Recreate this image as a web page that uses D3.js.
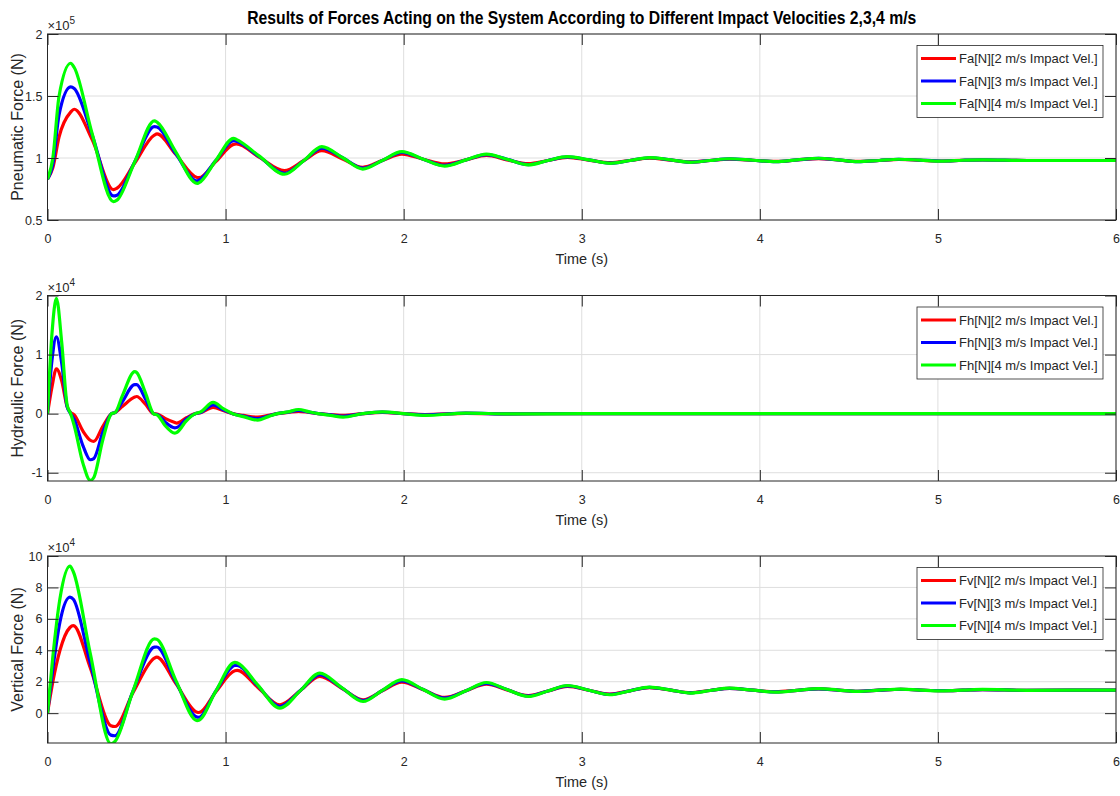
<!DOCTYPE html>
<html>
<head>
<meta charset="utf-8">
<script src="https://cdn.jsdelivr.net/npm/d3@7"></script>
<style>
  body { margin: 0; background: #fff; }
  svg { display: block; font-family: "Liberation Sans", Arial, sans-serif; }
</style>
</head>
<body>
<svg id="chart" width="1120" height="796"></svg>
<script>
// time axis
const xTicks = [0, 1, 2, 3, 4, 5, 6];

// ---- Pneumatic force (x1e5 N) ----
const tPneu = [0, 0.03, 0.065, 0.13, 0.15, 0.25, 0.37, 0.39, 0.49, 0.60, 0.615, 0.72, 0.84, 0.85, 0.945,
  1.045, 1.06, 1.19, 1.33, 1.44, 1.54, 1.66, 1.77, 1.88, 1.99, 2.11, 2.23, 2.35, 2.465, 2.58, 2.70, 2.81,
  2.92, 3.04, 3.16, 3.27, 3.38, 3.50, 3.61, 3.72, 3.83, 3.96, 4.09, 4.21, 4.33, 4.44, 4.55, 4.67, 4.78,
  4.90, 5.02, 5.14, 5.25, 5.5, 5.75, 6.0];
const pneu2 = [0.83, 0.92, 1.17, 1.37, 1.393, 1.15, 0.745, 0.756, 0.96, 1.185, 1.194, 1.03, 0.843, 0.841, 0.97,
  1.11, 1.113, 1.005, 0.898, 0.98, 1.059, 0.99, 0.925, 0.98, 1.032, 0.99, 0.952, 0.985, 1.02, 0.985, 0.955, 0.98,
  1.005, 0.983, 0.962, 0.98, 0.998, 0.983, 0.968, 0.98, 0.99, 0.982, 0.972, 0.984, 0.995, 0.984, 0.972, 0.98, 0.988,
  0.982, 0.976, 0.982, 0.984, 0.98, 0.98, 0.98];
const pneu3 = [0.83, 0.95, 1.35, 1.573, 1.56, 1.19, 0.694, 0.70, 0.97, 1.253, 1.25, 1.035, 0.815, 0.82, 0.98,
  1.14, 1.135, 1.01, 0.876, 0.98, 1.08, 1.0, 0.918, 0.98, 1.045, 0.99, 0.94, 0.985, 1.028, 0.99, 0.947, 0.98,
  1.009, 0.985, 0.958, 0.98, 1.002, 0.985, 0.966, 0.98, 0.993, 0.982, 0.971, 0.985, 0.997, 0.985, 0.971, 0.98, 0.99,
  0.983, 0.976, 0.982, 0.985, 0.98, 0.98, 0.98];
const pneu4 = [0.83, 1.00, 1.50, 1.764, 1.73, 1.20, 0.648, 0.66, 0.97, 1.30, 1.29, 1.05, 0.796, 0.80, 0.98,
  1.159, 1.15, 1.015, 0.869, 0.98, 1.092, 1.0, 0.911, 0.98, 1.051, 0.99, 0.935, 0.985, 1.032, 0.99, 0.944, 0.98,
  1.011, 0.985, 0.957, 0.98, 1.003, 0.985, 0.965, 0.98, 0.994, 0.982, 0.97, 0.985, 0.998, 0.985, 0.97, 0.98, 0.99,
  0.983, 0.975, 0.982, 0.985, 0.98, 0.98, 0.98];
const pneuTicks = [0.5, 1, 1.5, 2];

// ---- Hydraulic force (x1e4 N) ----
const tHyd = [0, 0.025, 0.05, 0.08, 0.11, 0.13, 0.15, 0.2, 0.24, 0.26, 0.31, 0.36, 0.38, 0.42, 0.49, 0.5,
  0.55, 0.595, 0.62, 0.66, 0.715, 0.725, 0.78, 0.83, 0.86, 0.93, 0.99, 1.04, 1.1, 1.18, 1.24, 1.29, 1.35,
  1.41, 1.47, 1.52, 1.59, 1.66, 1.77, 1.88, 2.0, 2.12, 2.35, 2.6, 3.0, 6.0];
const hyd2 = [0, 0.45, 0.76, 0.55, 0.12, 0.02, -0.02, -0.3, -0.45, -0.47, -0.22, 0, 0.02, 0.12, 0.28, 0.29,
  0.16, 0, -0.01, -0.08, -0.15, -0.16, -0.07, 0, 0.015, 0.105, 0.05, 0, -0.03, -0.06, -0.03, 0, 0.02,
  0.04, 0.02, 0, -0.015, -0.03, 0, 0.02, 0, -0.015, 0.005, -0.003, 0, 0];
const hyd3 = [0, 0.9, 1.30, 0.85, 0.12, 0, -0.1, -0.55, -0.78, -0.76, -0.32, 0, 0.02, 0.2, 0.49, 0.49,
  0.25, 0, -0.02, -0.14, -0.24, -0.235, -0.09, 0, 0.02, 0.15, 0.06, 0, -0.04, -0.085, -0.04, 0, 0.025,
  0.055, 0.025, 0, -0.02, -0.045, 0, 0.025, 0, -0.02, 0.008, -0.004, 0, 0];
const hyd4 = [0, 1.35, 1.95, 1.2, 0.15, 0, -0.2, -0.85, -1.13, -1.08, -0.45, 0, 0.02, 0.3, 0.71, 0.70,
  0.35, 0, -0.03, -0.2, -0.33, -0.32, -0.12, 0, 0.03, 0.19, 0.08, 0, -0.05, -0.11, -0.05, 0, 0.03,
  0.07, 0.03, 0, -0.03, -0.06, 0, 0.03, 0, -0.03, 0.01, -0.005, 0, 0];
const hydTicks = [-1, 0, 1, 2];

// ---- Vertical force (x1e4 N) ----
const tVert = [0, 0.03, 0.07, 0.126, 0.145, 0.24, 0.356, 0.379, 0.48, 0.60, 0.613, 0.72, 0.84, 0.85, 0.945,
  1.052, 1.065, 1.18, 1.305, 1.42, 1.529, 1.65, 1.772, 1.88, 1.99, 2.11, 2.23, 2.35, 2.465, 2.58, 2.70, 2.81,
  2.92, 3.04, 3.157, 3.27, 3.38, 3.5, 3.61, 3.72, 3.83, 3.96, 4.09, 4.21, 4.33, 4.44, 4.55, 4.67, 4.79, 4.9,
  5.02, 5.14, 5.25, 5.5, 5.75, 6.0];
const vert2 = [0, 2.0, 4.0, 5.45, 5.57, 2.9, -0.8, -0.85, 1.3, 3.5, 3.57, 1.9, 0.06, 0.04, 1.35,
  2.7, 2.72, 1.65, 0.53, 1.43, 2.34, 1.6, 0.85, 1.42, 1.98, 1.49, 1.0, 1.42, 1.84, 1.48, 1.12, 1.41,
  1.70, 1.46, 1.21, 1.42, 1.62, 1.46, 1.30, 1.44, 1.57, 1.46, 1.36, 1.45, 1.54, 1.47, 1.39, 1.46, 1.52, 1.47,
  1.43, 1.46, 1.5, 1.45, 1.46, 1.46];
const vert3 = [0, 2.8, 5.8, 7.38, 7.25, 3.2, -1.40, -1.44, 1.4, 4.2, 4.21, 2.0, -0.25, -0.26, 1.4,
  3.03, 3.04, 1.75, 0.42, 1.44, 2.45, 1.63, 0.8, 1.44, 2.05, 1.5, 0.95, 1.43, 1.9, 1.5, 1.09, 1.41,
  1.73, 1.46, 1.19, 1.42, 1.64, 1.47, 1.29, 1.44, 1.58, 1.46, 1.35, 1.45, 1.55, 1.47, 1.39, 1.46, 1.52, 1.47,
  1.43, 1.46, 1.5, 1.45, 1.46, 1.46];
const vert4 = [0, 3.6, 7.3, 9.36, 9.0, 3.8, -1.95, -1.8, 1.4, 4.72, 4.7, 2.1, -0.47, -0.45, 1.4,
  3.23, 3.2, 1.8, 0.32, 1.43, 2.55, 1.65, 0.74, 1.45, 2.13, 1.5, 0.89, 1.42, 1.95, 1.5, 1.06, 1.41,
  1.76, 1.46, 1.17, 1.42, 1.66, 1.47, 1.28, 1.44, 1.59, 1.46, 1.34, 1.45, 1.56, 1.47, 1.38, 1.46, 1.53, 1.47,
  1.42, 1.46, 1.51, 1.45, 1.46, 1.46];
const vertTicks = [0, 2, 4, 6, 8, 10];

const velocities = ['2', '3', '4'];
const colors = ['#ff0000', '#0000ff', '#00ff00'];

const svg = d3.select('#chart');
const left = 47.5, right = 1116;
const x = d3.scaleLinear().domain([0, 6]).range([left, right]);
const textColor = '#262626';

// Title (condensed bold, squeezed to the reference width)
svg.append('text')
    .attr('x', (left + right) / 2)
    .attr('y', 24)
    .attr('text-anchor', 'middle')
    .attr('font-family', '"Liberation Sans Narrow", "Arial Narrow", "Liberation Sans", sans-serif')
    .attr('font-weight', 'bold')
    .attr('font-size', '18px')
    .attr('textLength', 669)
    .attr('lengthAdjust', 'spacingAndGlyphs')
    .attr('fill', '#000')
    .text('Results of Forces Acting on the System According to Different Impact Velocities 2,3,4 m/s');

const panels = [
    { top: 34, bottom: 220, domain: [0.5, 2], ticks: pneuTicks, exp: '5',
      ylabel: 'Pneumatic Force (N)', prefix: 'Fa', t: tPneu, series: [pneu2, pneu3, pneu4] },
    { top: 295.5, bottom: 481, domain: [-1.14, 2], ticks: hydTicks, exp: '4',
      ylabel: 'Hydraulic Force (N)', prefix: 'Fh', t: tHyd, series: [hyd2, hyd3, hyd4] },
    { top: 556, bottom: 743, domain: [-1.9, 10], ticks: vertTicks, exp: '4',
      ylabel: 'Vertical Force (N)', prefix: 'Fv', t: tVert, series: [vert2, vert3, vert4] }
];

panels.forEach((p, i) => drawPanel(p, i));

function drawPanel(p, idx) {
    const h = p.bottom - p.top;
    const y = d3.scaleLinear().domain(p.domain).range([p.bottom, p.top]);
    const g = svg.append('g');

    // clip
    g.append('clipPath').attr('id', 'clip' + idx)
        .append('rect')
        .attr('x', left).attr('y', p.top)
        .attr('width', right - left).attr('height', h);

    // grid
    g.append('g').selectAll('line.vx')
        .data(xTicks)
        .enter().append('line')
        .attr('x1', d => x(d)).attr('x2', d => x(d))
        .attr('y1', p.top).attr('y2', p.bottom)
        .attr('stroke', '#dedede').attr('stroke-width', 1);
    g.append('g').selectAll('line.hy')
        .data(p.ticks)
        .enter().append('line')
        .attr('x1', left).attr('x2', right)
        .attr('y1', d => y(d)).attr('y2', d => y(d))
        .attr('stroke', '#dedede').attr('stroke-width', 1);

    // curves
    const line = d3.line()
        .x(d => x(d[0]))
        .y(d => y(d[1]))
        .curve(d3.curveMonotoneX);
    p.series.forEach((vals, k) => {
        g.append('path')
            .datum(p.t.map((t, j) => [t, vals[j]]))
            .attr('clip-path', 'url(#clip' + idx + ')')
            .attr('fill', 'none')
            .attr('stroke', colors[k])
            .attr('stroke-width', 3.2)
            .attr('stroke-linejoin', 'round')
            .attr('d', line);
    });

    // axes (ticks inward on all sides)
    const tl = 11;
    const xb = g.append('g')
        .attr('transform', `translate(0,${p.bottom})`)
        .call(d3.axisBottom(x).tickValues(xTicks).tickSize(-tl).tickPadding(14).tickFormat(d => String(d)));
    const xt = g.append('g')
        .attr('transform', `translate(0,${p.top})`)
        .call(d3.axisTop(x).tickValues(xTicks).tickSize(-tl).tickFormat(''));
    const yl = g.append('g')
        .attr('transform', `translate(${left},0)`)
        .call(d3.axisLeft(y).tickValues(p.ticks).tickSize(-tl).tickPadding(5).tickFormat(d => String(d)));
    const yr = g.append('g')
        .attr('transform', `translate(${right},0)`)
        .call(d3.axisRight(y).tickValues(p.ticks).tickSize(-tl).tickFormat(''));
    [xb, xt, yl, yr].forEach(a => {
        a.select('.domain').remove();
        a.selectAll('line').attr('stroke', textColor).attr('stroke-width', 1);
        a.selectAll('text')
            .attr('fill', textColor)
            .attr('font-size', '12.5px')
            .attr('font-family', '"Liberation Sans", Arial, sans-serif');
    });

    // frame
    g.append('rect')
        .attr('x', left).attr('y', p.top)
        .attr('width', right - left).attr('height', h)
        .attr('fill', 'none')
        .attr('stroke', textColor)
        .attr('stroke-width', 1);

    // exponent
    const ex = g.append('text')
        .attr('x', left)
        .attr('y', p.top - 4)
        .attr('fill', textColor)
        .attr('font-size', '13px');
    ex.append('tspan').text('\u00d710');
    ex.append('tspan').attr('dy', -6).attr('font-size', '10px').text(p.exp);

    // axis labels
    g.append('text')
        .attr('x', (left + right) / 2)
        .attr('y', p.bottom + 44)
        .attr('text-anchor', 'middle')
        .attr('fill', textColor)
        .attr('font-size', '14.5px')
        .text('Time (s)');
    g.append('text')
        .attr('transform', `translate(23,${(p.top + p.bottom) / 2}) rotate(-90)`)
        .attr('text-anchor', 'middle')
        .attr('fill', textColor)
        .attr('font-size', '16px')
        .text(p.ylabel);

    // legend
    const lx = 917, ly = p.top + 11.5;
    const lg = g.append('g').attr('transform', `translate(${lx},${ly})`);
    lg.append('rect')
        .attr('width', 186).attr('height', 72)
        .attr('fill', '#fff')
        .attr('stroke', textColor)
        .attr('stroke-width', 0.8);
    velocities.forEach((v, k) => {
        const yy = 13 + k * 22.5;
        lg.append('line')
            .attr('x1', 4).attr('x2', 39)
            .attr('y1', yy).attr('y2', yy)
            .attr('stroke', colors[k]).attr('stroke-width', 3);
        lg.append('text')
            .attr('x', 42).attr('y', yy)
            .attr('dy', '0.35em')
            .attr('fill', textColor)
            .attr('font-size', '13px')
            .text(`${p.prefix}[N][${v} m/s Impact Vel.]`);
    });
}
</script>
</body>
</html>
